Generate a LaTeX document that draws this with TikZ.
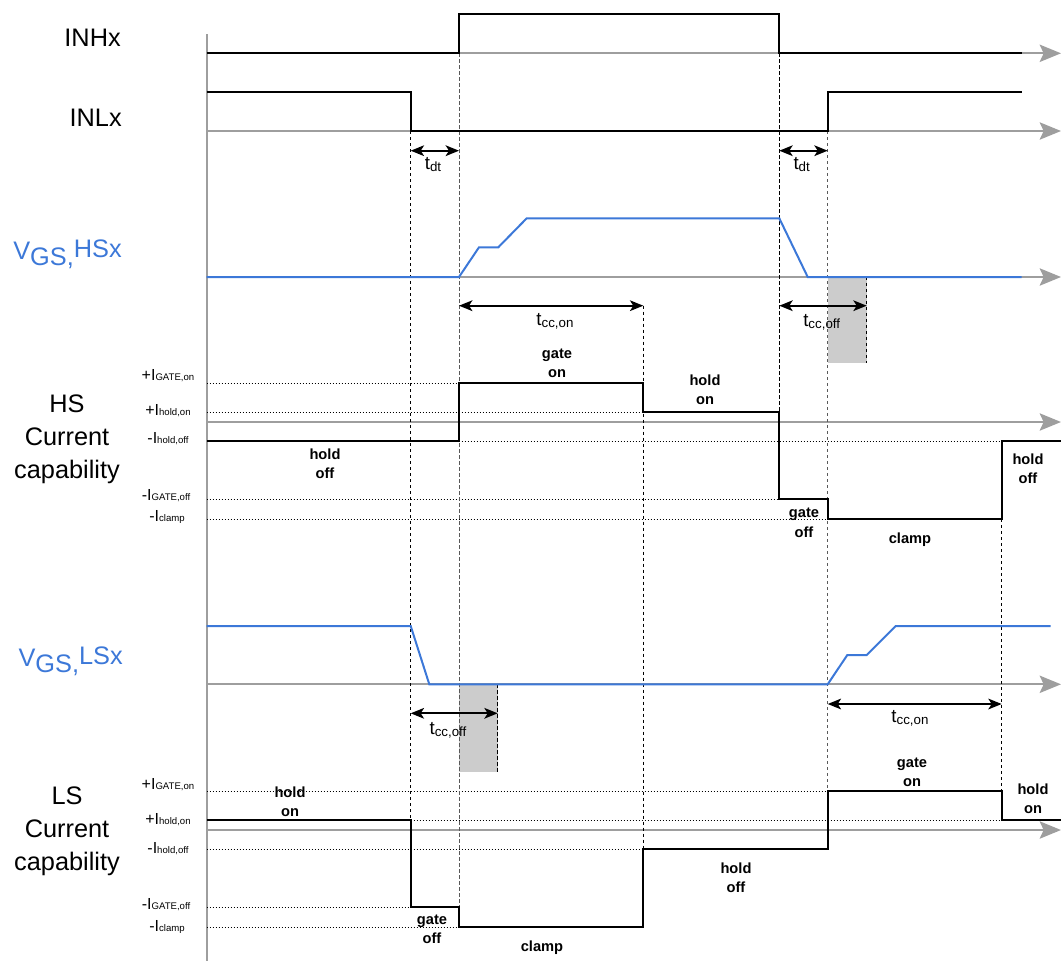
\documentclass[tikz,border=0pt]{standalone}
\usepackage{fontspec}
\setmainfont{Liberation Sans}
\usepackage{xcolor}
\definecolor{vgsblue}{HTML}{3C78D8}
\definecolor{axgray}{HTML}{9E9E9E}
\definecolor{boxgray}{HTML}{CCCCCC}
\newcommand{\curlvl}[2]{#1I{\fontsize{7.2}{8}\selectfont #2}}
\newcommand{\tlbl}[1]{t{\fontsize{10}{12}\selectfont\raisebox{-1.5pt}{#1}}}
\newcommand{\vgslbl}[1]{V\raisebox{-5pt}{GS,}\raisebox{1pt}{#1}}
\usepackage{tikz}
\usetikzlibrary{arrows.meta}
\usetikzlibrary{positioning}

\begin{document}
\begin{tikzpicture}[x=0.75pt, y=-0.75pt,
    taxis/.style={draw=axgray, line width=1.5pt, -{Stealth[length=16pt, width=13pt, inset=3pt]}},
    sig/.style={line width=1.5pt, line join=miter},
    vgs/.style={draw=vgsblue, line width=1.5pt},
    guide/.style={line width=0.75pt, dash pattern=on 2.5pt off 2pt},
    lvl/.style={line width=0.75pt, dash pattern=on 0.75pt off 1.5pt},
    dim/.style={line width=1.5pt, {Stealth[length=10pt, width=8pt, inset=2.5pt]}-{Stealth[length=10pt, width=8pt, inset=2.5pt]}},
    big/.style={font=\fontsize{19}{24.75}\selectfont, align=center, inner sep=0pt},
    lvlname/.style={font=\fontsize{12}{14}\selectfont, anchor=base, inner sep=0pt},
    tname/.style={font=\fontsize{14}{16}\selectfont, inner sep=0pt},
    phase/.style={font=\fontsize{11}{14.6}\selectfont\bfseries, align=center, inner sep=0pt}]

    \useasboundingbox (0,0) rectangle (1061,961);

    \fill [boxgray] (827.7,277) rectangle (866.7,363);
    \fill [boxgray] (459,684.3) rectangle (497.7,772);

    \draw [axgray, line width=1.5pt] (206.7,34) -- (206.7,961);
    \foreach \y in {53.3,131,277,422,684.3,830}
      \draw [taxis] (206.7,\y) -- (1061,\y);

    \draw [lvl] (206.7,383) -- (459,383);
    \draw [lvl] (206.7,412) -- (643.3,412);
    \draw [lvl] (206.7,441) -- (1001.7,441);
    \draw [lvl] (206.7,499) -- (779.3,499);
    \draw [lvl] (206.7,519) -- (827.7,519);
    \draw [lvl] (206.7,791) -- (827.7,791);
    \draw [lvl] (206.7,820) -- (1001.7,820);
    \draw [lvl] (206.7,849) -- (643.3,849);
    \draw [lvl] (206.7,907) -- (410.7,907);
    \draw [lvl] (206.7,927) -- (459,927);

    \draw [guide] (410.7,131) -- (410.7,820);
    \draw [guide, black!65] (459,53.3) -- (459,907);
    \draw [guide] (643.3,305.7) -- (643.3,849);
    \draw [guide] (779.3,53.3) -- (779.3,412);
    \draw [guide, black!65] (827.7,131) -- (827.7,791);
    \draw [guide] (1001.7,519) -- (1001.7,791);
    \draw [guide] (866.7,277) -- (866.7,363);
    \draw [guide] (497.7,684.3) -- (497.7,772);

    \draw [sig] (206.7,53.3) -- (459,53.3) -- (459,14.3) -- (779.3,14.3)
      -- (779.3,53.3) -- (1021.7,53.3);
    \draw [sig] (206.7,92.3) -- (410.7,92.3) -- (410.7,131) -- (827.7,131)
      -- (827.7,92.3) -- (1021.7,92.3);
    \draw [vgs] (206.7,277) -- (459,277) -- (479,247.3) -- (498.3,247.3)
      -- (526.7,218.3) -- (779.3,218.3) -- (807.7,277) -- (1021.7,277);
    \draw [sig] (206.7,441) -- (459,441) -- (459,383) -- (643.3,383)
      -- (643.3,412) -- (779.3,412) -- (779.3,499) -- (827.7,499)
      -- (827.7,519) -- (1001.7,519) -- (1001.7,441) -- (1061,441);
    \draw [vgs] (206.7,626) -- (410.7,626) -- (429.3,684.3) -- (827.7,684.3)
      -- (847.3,655) -- (866.7,655) -- (895.7,626) -- (1050.7,626);
    \draw [sig] (206.7,820) -- (410.7,820) -- (410.7,907) -- (459,907)
      -- (459,927) -- (643.3,927) -- (643.3,849) -- (827.7,849)
      -- (827.7,791) -- (1001.7,791) -- (1001.7,820) -- (1061,820);

    \draw [dim] (410.7,150.7) -- (459,150.7);
    \draw [dim] (779.3,150.7) -- (827.7,150.7);
    \draw [dim] (459,305.7) -- (643.3,305.7);
    \draw [dim] (779.3,305.7) -- (866.7,305.7);
    \draw [dim] (410.7,713.3) -- (497.7,713.3);
    \draw [dim] (827.7,704) -- (1001.7,704);

    \node [tname] (dtlow) at (433,165) {\tlbl{dt}};
    \node [tname] (dthigh) at (801.7,165) {\tlbl{dt}};
    \node [tname] (cconhs) at (555,321.7) {\tlbl{cc,on}};
    \node [tname] (ccoffhs) at (821.7,322) {\tlbl{cc,off}};
    \node [tname] (ccoffls) at (448,730) {\tlbl{cc,off}};
    \node [tname] (cconls) at (910,718) {\tlbl{cc,on}};

    \node [big, anchor=base east] (inh) at (121,46.3) {INHx};
    \node [big, anchor=base east] (inl) at (122,126.7) {INLx};
    \node [big, anchor=base east, text=vgsblue] (vgshs) at (122,259) {\vgslbl{HSx}};
    \node [big, anchor=base east, text=vgsblue] (vgsls) at (123,666) {\vgslbl{LSx}};
    \node [big] (hscur) at (67,439) {HS\\Current\\capability};
    \node [big] (lscur) at (67,831.5) {LS\\Current\\capability};

    \node [lvlname] (hsgon) at (168,380) {\curlvl{+}{GATE,on}};
    \node [lvlname] (hshon) at (168,415) {\curlvl{+}{hold,on}};
    \node [lvlname] (hshoff) at (168,443.3) {\curlvl{-}{hold,off}};
    \node [lvlname] (hsgoff) at (166,500) {\curlvl{-}{GATE,off}};
    \node [lvlname] (hsclamp) at (167,521.7) {\curlvl{-}{clamp}};
    \node [lvlname] (lsgon) at (168,789.3) {\curlvl{+}{GATE,on}};
    \node [lvlname] (lshon) at (168,824.3) {\curlvl{+}{hold,on}};
    \node [lvlname] (lshoff) at (168,853.3) {\curlvl{-}{hold,off}};
    \node [lvlname] (lsgoff) at (166,909.3) {\curlvl{-}{GATE,off}};
    \node [lvlname] (lsclamp) at (167,931) {\curlvl{-}{clamp}};

    \node [phase] (hsholdoffa) at (325,463.5) {hold\\off};
    \node [phase] (hsgateon) at (557,363.5) {gate\\on};
    \node [phase] (hsholdon) at (705,390) {hold\\on};
    \node [phase] (hsgateoff) at (804,523) {gate\\off};
    \node [phase] (hsclampl) at (910,540) {clamp};
    \node [phase] (hsholdoffb) at (1028,468.5) {hold\\off};
    \node [phase] (lsholdona) at (290,802) {hold\\on};
    \node [phase] (lsgateoff) at (432,929.5) {gate\\off};
    \node [phase] (lsclampl) at (542,948) {clamp};
    \node [phase] (lsholdoff) at (736,878) {hold\\off};
    \node [phase] (lsgateon) at (912,772.5) {gate\\on};
    \node [phase] (lsholdonb) at (1033,798.5) {hold\\on};

  \end{tikzpicture}
\end{document}
